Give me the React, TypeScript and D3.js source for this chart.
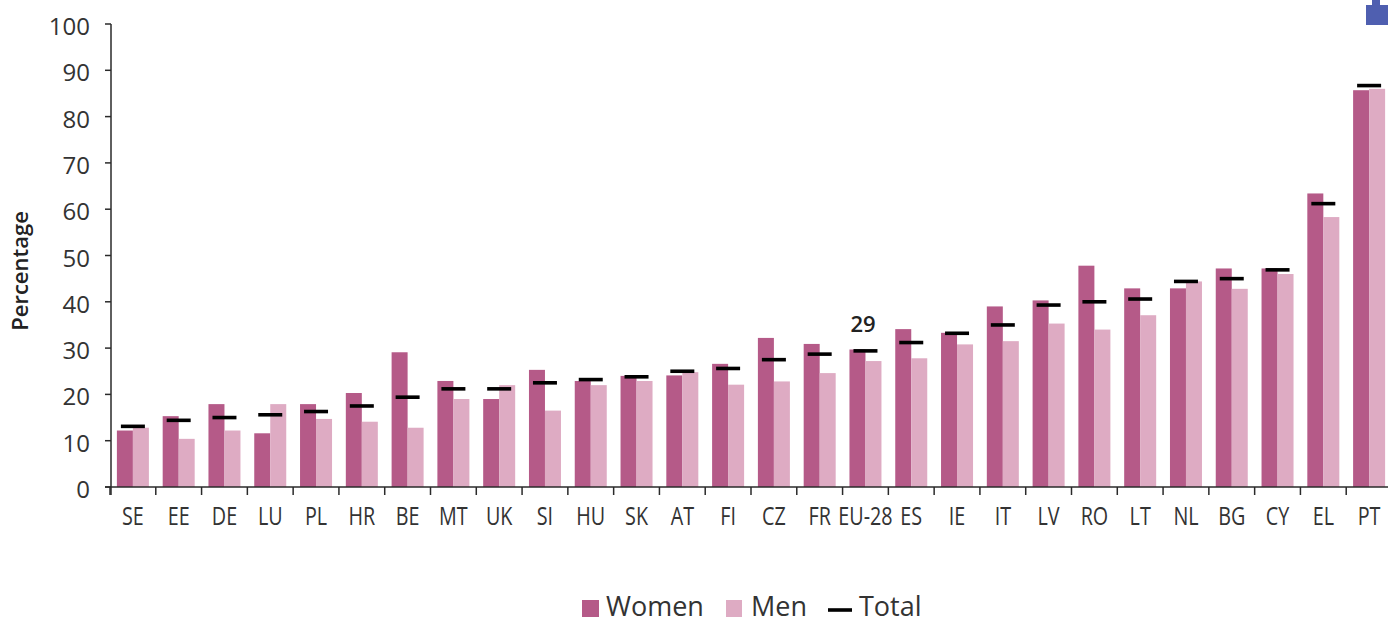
import React, { useEffect, useRef } from 'react';
import * as d3 from 'd3';

const countries = ['SE', 'EE', 'DE', 'LU', 'PL', 'HR', 'BE', 'MT', 'UK', 'SI', 'HU', 'SK', 'AT', 'FI', 'CZ', 'FR', 'EU-28', 'ES', 'IE', 'IT', 'LV', 'RO', 'LT', 'NL', 'BG', 'CY', 'EL', 'PT'];
const women = [12.2, 15.3, 17.9, 11.6, 17.9, 20.3, 29.1, 22.9, 19, 25.3, 22.9, 24, 24.1, 26.6, 32.2, 30.9, 29.7, 34.1, 33.3, 39, 40.3, 47.8, 42.9, 42.9, 47.2, 47.2, 63.4, 85.7];
const men = [12.8, 10.4, 12.2, 17.9, 14.7, 14.1, 12.8, 19, 22, 16.5, 22, 22.9, 24.8, 22.1, 22.8, 24.6, 27.2, 27.8, 30.8, 31.5, 35.3, 34, 37.1, 44.4, 42.8, 46, 58.3, 86];
const total = [13.1, 14.4, 15, 15.6, 16.3, 17.5, 19.4, 21.2, 21.2, 22.5, 23.2, 23.8, 25, 25.6, 27.5, 28.7, 29.4, 31.2, 33.2, 35, 39.3, 40, 40.6, 44.4, 45, 46.9, 61.2, 86.7];
const yTicks = [0, 10, 20, 30, 40, 50, 60, 70, 80, 90, 100];

const width = 1388;
const height = 618;
const font = '"Open Sans", sans-serif';
const womenColor = '#b55a88';
const menColor = '#deabc3';
const textColor = '#333333';
const axisColor = '#2a2a2a';

export default function App() {
  const svgRef = useRef<SVGSVGElement>(null);

  useEffect(() => {
    const svg = d3.select(svgRef.current);
    svg.selectAll('*').remove();

    const x = d3.scaleBand<string>().domain(countries).range([110, 1392]);
    const y = d3.scaleLinear().domain([0, 100]).range([487, 24]);
    const barW = 16;

    // Bars
    svg.append('g').selectAll('rect')
      .data(women)
      .join('rect')
      .attr('x', (d, i) => x(countries[i])! + x.bandwidth() / 2 - barW)
      .attr('y', d => y(d))
      .attr('width', barW)
      .attr('height', d => y(0) - y(d))
      .attr('fill', womenColor);

    svg.append('g').selectAll('rect')
      .data(men)
      .join('rect')
      .attr('x', (d, i) => x(countries[i])! + x.bandwidth() / 2)
      .attr('y', d => y(d))
      .attr('width', barW)
      .attr('height', d => y(0) - y(d))
      .attr('fill', menColor);

    // Total markers
    svg.append('g').selectAll('line')
      .data(total)
      .join('line')
      .attr('x1', (d, i) => x(countries[i])! + x.bandwidth() / 2 - 12)
      .attr('x2', (d, i) => x(countries[i])! + x.bandwidth() / 2 + 12)
      .attr('y1', d => y(d))
      .attr('y2', d => y(d))
      .attr('stroke', '#000')
      .attr('stroke-width', 3.6);

    // Y axis
    const yAxis = svg.append('g');
    yAxis.append('line').attr('x1', 111).attr('x2', 111).attr('y1', y(100)).attr('y2', y(0) + 8).attr('stroke', axisColor).attr('stroke-width', 1.5);
    yAxis.selectAll('line.tick')
      .data(yTicks)
      .join('line')
      .attr('class', 'tick')
      .attr('x1', 105)
      .attr('x2', 111)
      .attr('y1', d => y(d))
      .attr('y2', d => y(d))
      .attr('stroke', axisColor)
      .attr('stroke-width', 1.5);
    yAxis.selectAll('text')
      .data(yTicks)
      .join('text')
      .attr('x', 90)
      .attr('y', d => y(d) + 11)
      .attr('text-anchor', 'end')
      .attr('font-family', font)
      .attr('font-size', 24)
      .attr('fill', textColor)
      .text(d => d);

    // X axis
    const xAxis = svg.append('g');
    xAxis.append('line').attr('x1', 105).attr('x2', width).attr('y1', y(0)).attr('y2', y(0)).attr('stroke', axisColor).attr('stroke-width', 1.5);
    xAxis.selectAll('line.tick')
      .data(countries)
      .join('line')
      .attr('class', 'tick')
      .attr('x1', d => x(d)!)
      .attr('x2', d => x(d)!)
      .attr('y1', y(0))
      .attr('y2', y(0) + 8)
      .attr('stroke', axisColor)
      .attr('stroke-width', 1.5);
    xAxis.selectAll('text')
      .data(countries)
      .join('text')
      .attr('transform', d => `translate(${x(d)! + x.bandwidth() / 2},525) scale(0.79,1)`)
      .attr('text-anchor', 'middle')
      .attr('font-family', font)
      .attr('font-size', 25)
      .attr('fill', textColor)
      .text(d => d);

    // Y title
    svg.append('text')
      .attr('transform', 'translate(28,271) rotate(-90)')
      .attr('text-anchor', 'middle')
      .attr('font-family', font)
      .attr('font-size', 22)
      .attr('font-weight', 600)
      .attr('fill', '#222')
      .text('Percentage');

    // EU-28 label
    svg.append('text')
      .attr('x', 863)
      .attr('y', 332)
      .attr('text-anchor', 'middle')
      .attr('font-family', font)
      .attr('font-size', 22)
      .attr('font-weight', 600)
      .attr('fill', '#222')
      .text('29');

    // Legend
    const legend = svg.append('g').attr('font-family', font).attr('font-size', 27).attr('fill', textColor);
    legend.append('rect').attr('x', 582).attr('y', 600).attr('width', 17).attr('height', 17).attr('fill', womenColor);
    legend.append('text').attr('x', 606).attr('y', 616).text('Women');
    legend.append('rect').attr('x', 726).attr('y', 600).attr('width', 16).attr('height', 17).attr('fill', menColor);
    legend.append('text').attr('x', 751).attr('y', 616).text('Men');
    legend.append('line').attr('x1', 828).attr('x2', 852).attr('y1', 610).attr('y2', 610).attr('stroke', '#000').attr('stroke-width', 3.6);
    legend.append('text').attr('x', 859).attr('y', 616).text('Total');

    // Cropped blue icon, top right corner
    svg.append('rect').attr('x', 1366).attr('y', 5).attr('width', 22).attr('height', 20).attr('fill', '#4f5fb0');
    svg.append('rect').attr('x', 1372).attr('y', 0).attr('width', 8).attr('height', 5).attr('fill', '#4f5fb0');
  }, []);

  return (
    <svg ref={svgRef} width={width} height={height} style={{ position: 'absolute', left: 0, top: 0, background: '#fff' }} />
  );
}
